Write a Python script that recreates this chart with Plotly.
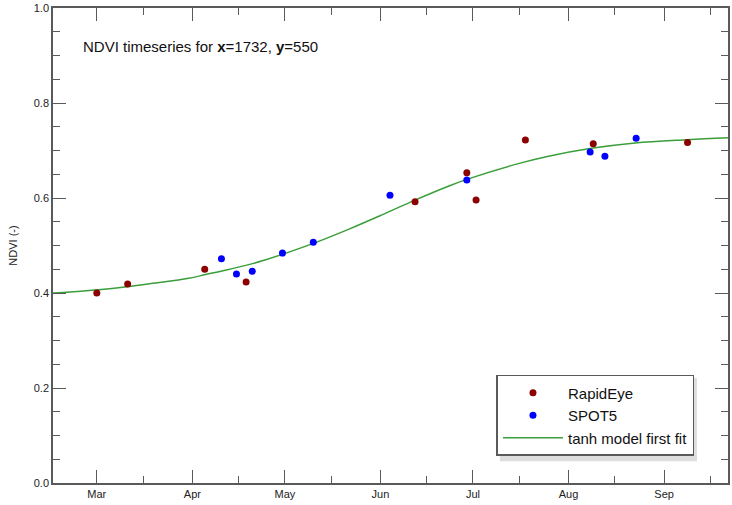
import plotly.graph_objects as go

# RapidEye observations
rapideye_dates = ["2013-03-01", "2013-03-11", "2013-04-05", "2013-04-18 10:00",
                  "2013-06-12 05:00", "2013-06-29", "2013-07-02", "2013-07-18",
                  "2013-08-09", "2013-09-08 14:00"]
rapideye_ndvi = [0.400, 0.419, 0.450, 0.423, 0.592, 0.653, 0.596, 0.722, 0.714, 0.717]

# SPOT5 observations
spot5_dates = ["2013-04-10 10:00", "2013-04-15 07:00", "2013-04-20 10:00", "2013-04-30 05:00",
               "2013-05-10 05:00", "2013-06-04 02:00", "2013-06-29", "2013-08-08",
               "2013-08-12 19:00", "2013-08-22 22:00"]
spot5_ndvi = [0.472, 0.440, 0.446, 0.484, 0.507, 0.606, 0.638, 0.697, 0.688, 0.726]

# tanh model first fit
model_dates = ["2013-02-14 19:00", "2013-02-18", "2013-03-01 15:00", "2013-03-10 17:00",
               "2013-03-19", "2013-03-30 19:00", "2013-04-05 07:00", "2013-04-11 17:00",
               "2013-04-20 12:00", "2013-04-24 07:00", "2013-04-30 05:00", "2013-05-10 05:00",
               "2013-05-21 19:00", "2013-06-01 12:00", "2013-06-12 05:00", "2013-06-23 05:00",
               "2013-06-29", "2013-07-14 19:00", "2013-07-25 12:00", "2013-08-08 10:00",
               "2013-08-22 14:00", "2013-09-08 12:00", "2013-09-21 17:00"]
model_ndvi = [0.400, 0.4013, 0.4071, 0.4133, 0.4203, 0.4310, 0.4388, 0.4478, 0.4618, 0.4690,
              0.4814, 0.5044, 0.5346, 0.5646, 0.5956, 0.6253, 0.6392, 0.6708, 0.6879, 0.7046,
              0.7160, 0.7228, 0.7268]

month_ticks = ["2013-03-01", "2013-04-01", "2013-05-01", "2013-06-01",
               "2013-07-01", "2013-08-01", "2013-09-01"]
month_labels = ["Mar", "Apr", "May", "Jun", "Jul", "Aug", "Sep"]
mid_ticks = ["2013-03-16", "2013-04-16", "2013-05-16", "2013-06-16",
             "2013-07-16", "2013-08-16", "2013-09-16"]

FONT = "Liberation Sans, Arial, sans-serif"
AXC = "#5a5a5a"

fig = go.Figure()
fig.add_trace(go.Scatter(x=model_dates, y=model_ndvi, mode="lines", name="tanh model first fit",
                         legendrank=3,
                         line=dict(color="#3a9e3a", width=1.5, shape="spline", smoothing=1.0)))
fig.add_trace(go.Scatter(x=rapideye_dates, y=rapideye_ndvi, mode="markers", name="RapidEye",
                         legendrank=1, marker=dict(color="#8b0000", size=7)))
fig.add_trace(go.Scatter(x=spot5_dates, y=spot5_ndvi, mode="markers", name="SPOT5",
                         legendrank=2, marker=dict(color="#0000ff", size=7)))

fig.update_layout(
    width=732, height=505,
    margin=dict(l=53, r=2, t=8, b=22),
    paper_bgcolor="white", plot_bgcolor="white",
    font=dict(family=FONT, size=11, color="#222222"),
    showlegend=True,
    legend=dict(x=0.657, y=0.2274, xanchor="left", yanchor="top",
                bgcolor="white", bordercolor=AXC, borderwidth=1.5,
                font=dict(family=FONT, size=15, color="#111111"),
                itemwidth=60, tracegroupgap=0),
    xaxis=dict(type="date", range=["2013-02-14 19:00", "2013-09-21 17:00"],
               tickvals=month_ticks, ticktext=month_labels,
               ticks="inside", ticklen=13, tickcolor=AXC, tickwidth=1,
               showline=True, linecolor=AXC, linewidth=1.5, mirror="allticks",
               showgrid=False, zeroline=False,
               minor=dict(tickvals=mid_ticks, ticks="inside", ticklen=7, tickcolor=AXC, showgrid=False)),
    yaxis=dict(range=[0, 1], tickvals=[0, 0.2, 0.4, 0.6, 0.8, 1.0], tickformat=".1f",
               ticks="inside", ticklen=13, tickcolor=AXC, tickwidth=1,
               showline=True, linecolor=AXC, linewidth=1.5, mirror="allticks",
               showgrid=False, zeroline=False,
               title=dict(text="NDVI (-)", font=dict(size=11), standoff=14),
               minor=dict(dtick=0.05, ticks="inside", ticklen=7, tickcolor=AXC, showgrid=False)),
    annotations=[dict(text="NDVI timeseries for <b>x</b>=1732, <b>y</b>=550",
                      xref="paper", yref="paper", x=0.042, y=0.918,
                      xanchor="left", yanchor="middle", showarrow=False,
                      font=dict(family=FONT, size=15, color="#111111"))],
    shapes=[dict(type="rect", xref="paper", yref="paper", layer="below",
                 x0=0.662, x1=0.954, y0=0.046, y1=0.221,
                 fillcolor="#dedede", line=dict(width=0))],
)

fig.write_html("out.html")
